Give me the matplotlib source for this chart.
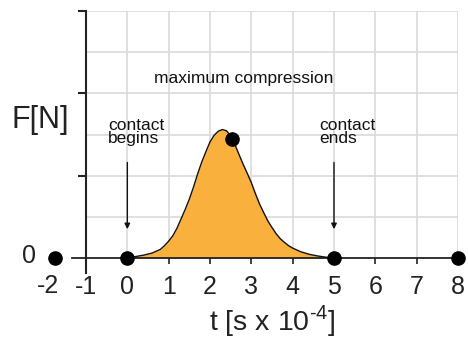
import numpy as np
import matplotlib
matplotlib.use("Agg")
import matplotlib.pyplot as plt

plt.rcParams["font.family"] = ["Liberation Sans", "DejaVu Sans"]
plt.rcParams["mathtext.fontset"] = "custom"
plt.rcParams["mathtext.rm"] = "Liberation Sans"
plt.rcParams["axes.unicode_minus"] = False

# force curve (t in 1e-4 s, F in grid units)
t = [0, 0.2, 0.4, 0.6, 0.8, 0.9, 1.0, 1.1, 1.2, 1.3, 1.4, 1.5, 1.6, 1.7,
     1.8, 1.9, 2.0, 2.1, 2.2, 2.3, 2.4, 2.5, 2.6, 2.7, 2.8, 2.9, 3.0, 3.1,
     3.2, 3.3, 3.4, 3.5, 3.6, 3.7, 3.8, 3.9, 4.0, 4.2, 4.4, 4.6, 4.8, 5.0]
force = [0, 0.035, 0.07, 0.12, 0.21, 0.30, 0.41, 0.54, 0.72, 0.95, 1.18,
         1.43, 1.72, 2.04, 2.33, 2.58, 2.82, 2.98, 3.08, 3.12, 3.09, 2.97,
         2.76, 2.52, 2.28, 2.06, 1.83, 1.56, 1.31, 1.10, 0.90, 0.74, 0.59,
         0.47, 0.38, 0.30, 0.24, 0.15, 0.09, 0.05, 0.02, 0]

# marked points
dot_t = [-1.75, 0, 5, 8, 2.54]
dot_f = [0, 0, 0, 0, 2.88]

tick_pos = [-1, 0, 1, 2, 3, 4, 5, 6, 7, 8]
tick_labels = ["-1", "0", "1", "2", "3", "4", "5", "6", "7", "8"]

fig = plt.figure(figsize=(4.68, 3.43), dpi=100)
ax = fig.add_axes([86 / 468, 85 / 343, 372 / 468, 247 / 343])

grid_color = "#dadada"
for x in range(0, 9):
    ax.plot([x, x], [0, 6], color=grid_color, lw=1.2, zorder=0)
for y in range(1, 7):
    ax.plot([-1, 8], [y, y], color=grid_color, lw=1.2, zorder=0)

for s in ax.spines.values():
    s.set_visible(False)

axis_color = "#222222"
ax.plot([-1.34, 8], [0, 0], color=axis_color, lw=1.3, clip_on=False, zorder=2)
ax.plot([-1, -1], [-0.37, 6], color=axis_color, lw=1.5, clip_on=False, zorder=2)

ax.fill_between(t, force, 0, color="#f9b03c", zorder=1, lw=0)
ax.plot(t, force, color="#111111", lw=1.0, zorder=2)

ax.plot(dot_t, dot_f, "o", color="black", markersize=9.5, clip_on=False,
        zorder=5, linestyle="none")

ax.set_xticks(tick_pos)
ax.set_xticklabels(tick_labels, fontsize=18, color="#222222")
ax.tick_params(axis="x", direction="out", length=4, width=1.2,
               color=axis_color, pad=8)

ax.set_yticks([2, 4, 6])
ax.set_yticklabels([])
ax.tick_params(axis="y", direction="out", length=6, width=1.5,
               color=axis_color)

ax.set_xlim(-1, 8)
ax.set_ylim(0, 6)

# the "-2" label sits left of the drawn axis
ax.text(-1.91, -0.68, "-2", fontsize=18, ha="center", va="center",
        color="#222222")

ax.set_xlabel(r"t [s x 10$^{\text{-4}}$]", fontsize=20.5, color="#222222",
              labelpad=3)

ax.text(-2.1, 3.35, "F[N]", fontsize=22, ha="center", va="center",
        color="#222222")
ax.text(-2.37, 0.05, "0", fontsize=18, ha="center", va="center",
        color="#222222")

ax.text(2.81, 4.37, "maximum compression", fontsize=12.5, ha="center",
        va="center", color="#111111")
ax.text(-0.46, 3.4, "contact\nbegins", fontsize=12.5, ha="left", va="top",
        linespacing=0.85, color="#111111")
ax.text(4.65, 3.4, "contact\nends", fontsize=12.5, ha="left", va="top",
        linespacing=0.85, color="#111111")

arrow = dict(arrowstyle="-|>", color="#111111", lw=1.0, mutation_scale=8,
             shrinkA=0, shrinkB=0)
ax.annotate("", xy=(0, 0.7), xytext=(0, 2.32), arrowprops=arrow)
ax.annotate("", xy=(5, 0.7), xytext=(5, 2.32), arrowprops=arrow)

fig.savefig("out.png", dpi=100)
